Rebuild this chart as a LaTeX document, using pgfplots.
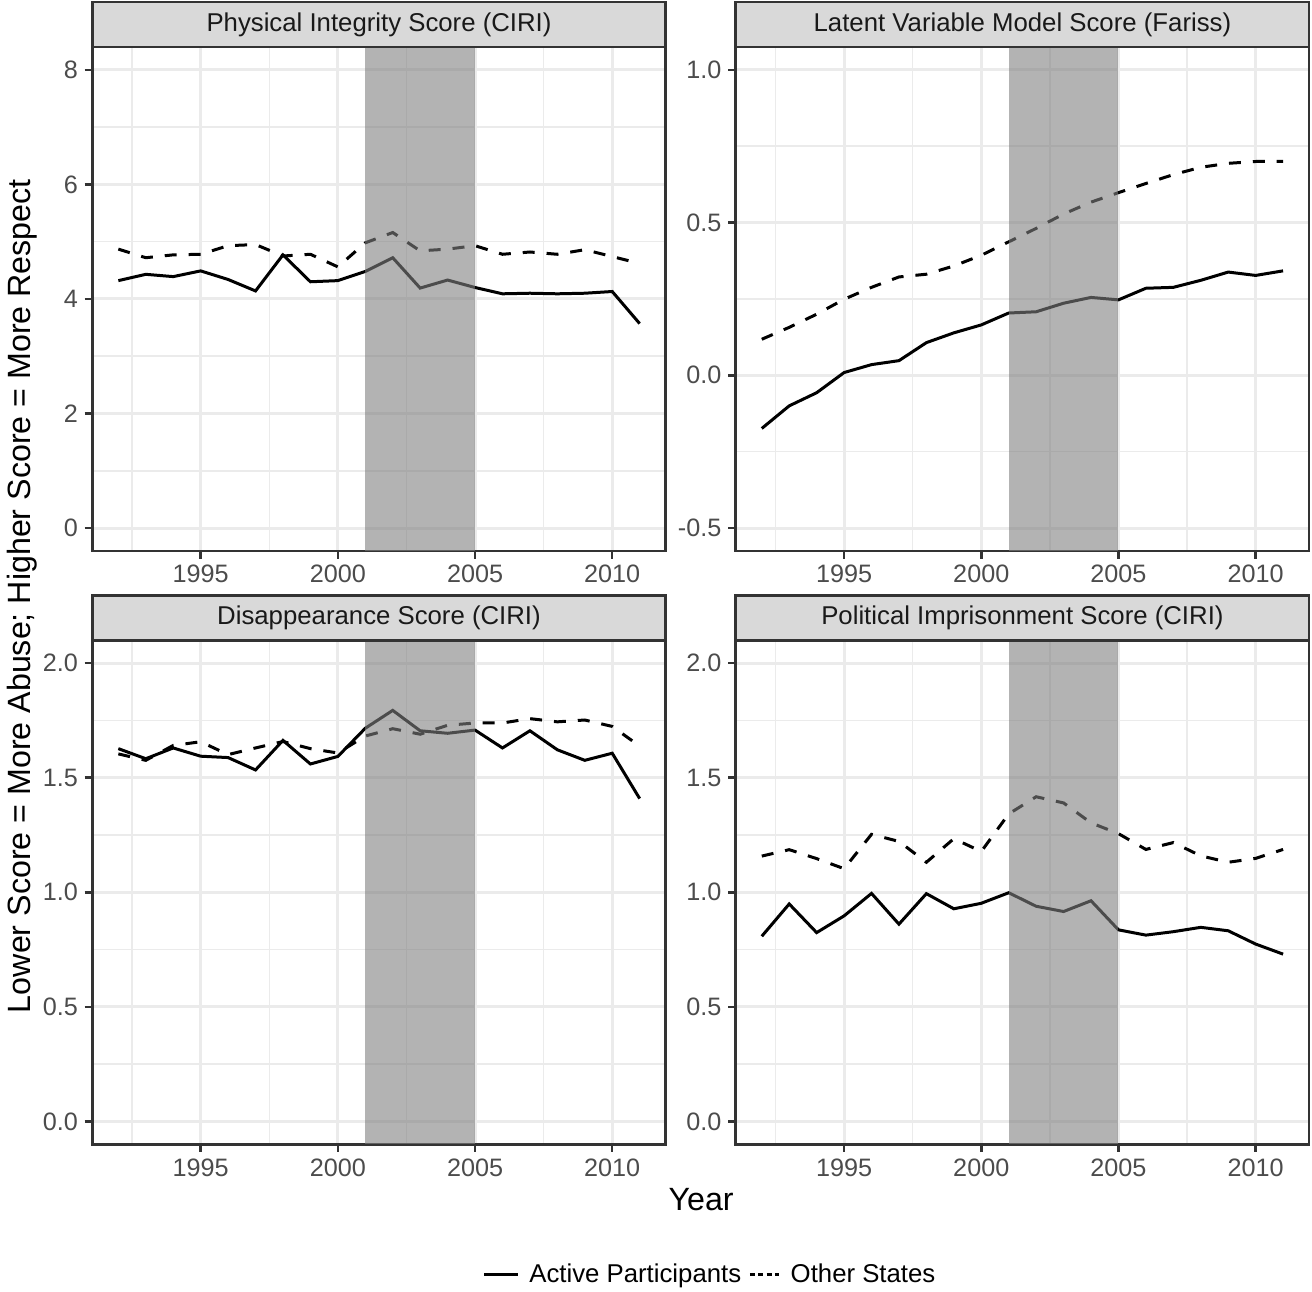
\documentclass[border=0pt]{standalone}
\usepackage{fontspec}
\setmainfont{Liberation Sans}
\usepackage{pgfplots}
\pgfplotsset{compat=1.18}
\definecolor{gray10}{gray}{0.1}
\definecolor{gray20}{gray}{0.2}
\definecolor{gray30}{gray}{0.3}
\definecolor{gray85}{gray}{0.85}
\definecolor{gray92}{gray}{0.92}
\definecolor{bandgray}{gray}{0.5}

\pgfplotstableread{
year act oth
1992 4.32 4.87
1993 4.43 4.72
1994 4.39 4.77
1995 4.49 4.78
1996 4.34 4.93
1997 4.14 4.95
1998 4.77 4.75
1999 4.30 4.78
2000 4.32 4.56
2001 4.48 4.98
2002 4.72 5.16
2003 4.19 4.84
2004 4.33 4.87
2005 4.20 4.93
2006 4.09 4.78
2007 4.10 4.82
2008 4.09 4.78
2009 4.10 4.86
2010 4.13 4.74
2011 3.57 4.62
}\physint

\pgfplotstableread{
year act oth
1992 -0.174 0.118
1993 -0.100 0.157
1994 -0.057 0.200
1995 0.009 0.249
1996 0.035 0.288
1997 0.048 0.322
1998 0.107 0.331
1999 0.139 0.358
2000 0.165 0.393
2001 0.204 0.437
2002 0.208 0.481
2003 0.236 0.528
2004 0.255 0.567
2005 0.247 0.598
2006 0.285 0.628
2007 0.288 0.657
2008 0.311 0.681
2009 0.338 0.694
2010 0.327 0.700
2011 0.342 0.700
}\latent

\pgfplotstableread{
year act oth
1992 1.627 1.604
1993 1.583 1.576
1994 1.630 1.641
1995 1.594 1.657
1996 1.588 1.601
1997 1.534 1.630
1998 1.663 1.658
1999 1.560 1.627
2000 1.593 1.608
2001 1.716 1.682
2002 1.794 1.714
2003 1.705 1.690
2004 1.694 1.729
2005 1.708 1.739
2006 1.630 1.739
2007 1.705 1.758
2008 1.622 1.744
2009 1.576 1.752
2010 1.607 1.724
2011 1.409 1.638
}\disapp

\pgfplotstableread{
year act oth
1992 0.808 1.158
1993 0.949 1.186
1994 0.824 1.147
1995 0.897 1.103
1996 0.995 1.253
1997 0.861 1.222
1998 0.994 1.131
1999 0.928 1.234
2000 0.952 1.178
2001 0.998 1.342
2002 0.939 1.417
2003 0.916 1.390
2004 0.963 1.303
2005 0.836 1.256
2006 0.813 1.187
2007 0.828 1.217
2008 0.847 1.159
2009 0.832 1.131
2010 0.774 1.148
2011 0.730 1.187
}\polimp

\pgfplotsset{
  facet/.style={
    scale only axis, width=204.8pt, height=180pt,
    xmin=1991.05, xmax=2011.95,
    xtick={1995,2000,2005,2010}, xticklabels={1995,2000,2005,2010},
    minor xtick={1992.5,1997.5,2002.5,2007.5},
    grid=both,
    major grid style={gray92, line width=1.07pt},
    minor grid style={gray92, line width=0.53pt},
    axis line style={gray20, line width=0.9pt},
    tick align=outside, tick pos=left,
    major tick length=2.75pt, minor tick length=0pt,
    major tick style={gray20, line width=0.9pt},
    /pgf/number format/assume math mode=true,
    ticklabel style={font=\fontsize{9}{10.8}\selectfont, text=gray30, inner sep=2.2pt},
    clip=false,
  },
  act/.style={black, line width=1.07pt},
  oth/.style={black, line width=1.07pt, dash pattern=on 4.27pt off 4.27pt},
}

\newcommand{\strip}[1]{%
  \draw[fill=gray85, draw=gray20, line width=0.9pt] (rel axis cs:0,1) rectangle ([yshift=16pt]rel axis cs:1,1);
  \node[font=\fontsize{9.2}{11}\selectfont, text=gray10] at ([yshift=8pt]rel axis cs:0.5,1) {#1};
}

\begin{document}
\begin{tikzpicture}
\path[use as bounding box] (0,0) rectangle (468.57pt,461.07pt);

% Top-left
\begin{axis}[facet, at={(32.96pt,264.3pt)}, anchor=south west,
  ymin=-0.4, ymax=8.4, ytick={0,2,4,6,8}, yticklabels={0,2,4,6,8},
  minor ytick={1,3,5,7}]
\addplot[act] table[x=year,y=act] {\physint};
\addplot[oth] table[x=year,y=oth] {\physint};
\fill[bandgray, opacity=0.6] (axis cs:2001,-0.4) rectangle (axis cs:2005,8.4);
\strip{Physical Integrity Score (CIRI)}
\end{axis}

% Top-right
\begin{axis}[facet, at={(262.75pt,264.3pt)}, anchor=south west,
  ymin=-0.575, ymax=1.075, ytick={-0.5,0,0.5,1}, yticklabels={-0.5,0.0,0.5,1.0},
  minor ytick={-0.25,0.25,0.75}]
\addplot[act] table[x=year,y=act] {\latent};
\addplot[oth] table[x=year,y=oth] {\latent};
\fill[bandgray, opacity=0.6] (axis cs:2001,-0.575) rectangle (axis cs:2005,1.075);
\strip{Latent Variable Model Score (Fariss)}
\end{axis}

% Bottom-left
\begin{axis}[facet, at={(32.96pt,52.4pt)}, anchor=south west,
  ymin=-0.1, ymax=2.1, ytick={0,0.5,1,1.5,2}, yticklabels={0.0,0.5,1.0,1.5,2.0},
  minor ytick={0.25,0.75,1.25,1.75},
  legend columns=2,
  legend style={at={(1.0755,-0.259)}, anchor=center, draw=none, fill=none,
    font=\fontsize{9.2}{11}\selectfont,
    nodes={inner sep=0pt},
    /tikz/every odd column/.append style={column sep=3.6pt},
    /tikz/every even column/.append style={column sep=2.5pt},
    /tikz/column 3/.append style={column sep=0.7pt}},
  legend image code/.code={\draw[#1] (0pt,0pt) -- (12pt,0pt);}]
\addplot[act] table[x=year,y=act] {\disapp};
\addlegendentry{Active Participants}
\addplot[oth, legend image code/.code={\draw[black, line width=1.07pt, dash pattern=on 1.9pt off 1.1pt] (0pt,0pt) -- (10.5pt,0pt);}] table[x=year,y=oth] {\disapp};
\addlegendentry{Other States}
\fill[bandgray, opacity=0.6] (axis cs:2001,-0.1) rectangle (axis cs:2005,2.1);
\strip{Disappearance Score (CIRI)}
\end{axis}

% Bottom-right
\begin{axis}[facet, at={(262.75pt,52.4pt)}, anchor=south west,
  ymin=-0.1, ymax=2.1, ytick={0,0.5,1,1.5,2}, yticklabels={0.0,0.5,1.0,1.5,2.0},
  minor ytick={0.25,0.75,1.25,1.75}]
\addplot[act] table[x=year,y=act] {\polimp};
\addplot[oth] table[x=year,y=oth] {\polimp};
\fill[bandgray, opacity=0.6] (axis cs:2001,-0.1) rectangle (axis cs:2005,2.1);
\strip{Political Imprisonment Score (CIRI)}
\end{axis}

\node[font=\fontsize{11.5}{13.5}\selectfont] at (250.4pt,32.5pt) {Year};
\node[font=\fontsize{11.5}{13.5}\selectfont, rotate=90] at (7.9pt,248.2pt) {Lower Score = More Abuse; Higher Score = More Respect};
\end{tikzpicture}
\end{document}
